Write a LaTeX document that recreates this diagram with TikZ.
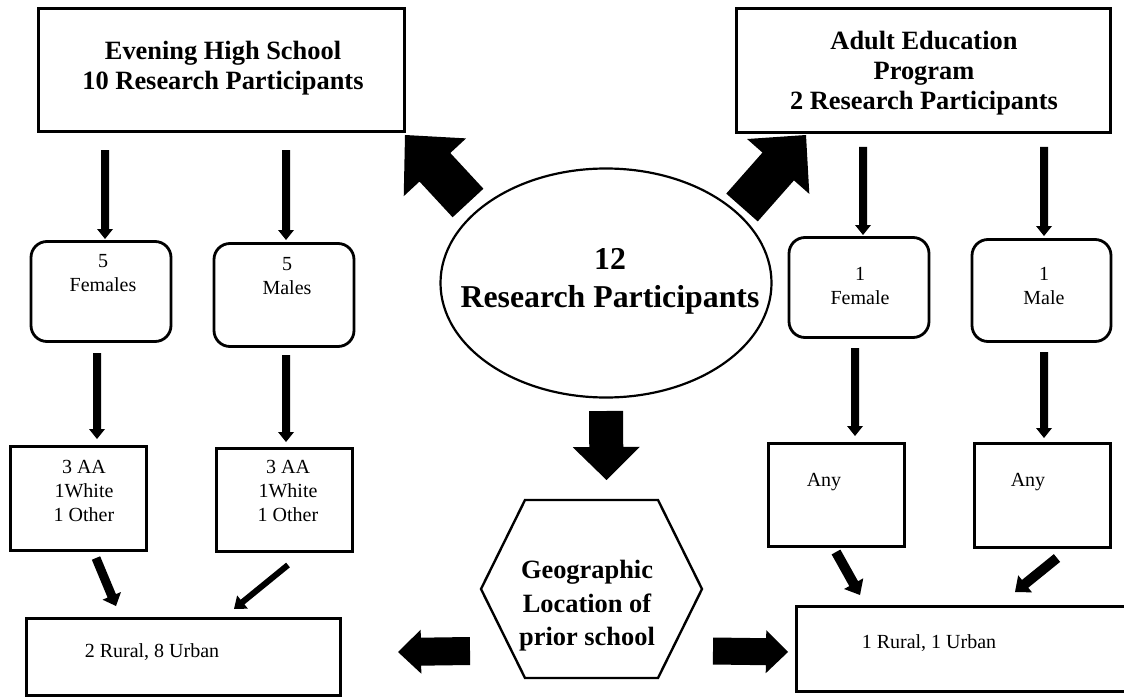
\documentclass[tikz,border=0pt]{standalone}
\usepackage{fontspec}
\setmainfont{Liberation Serif}
\usetikzlibrary{calc,shapes.geometric}
\newcommand{\blkarr}[5]{%
  \path ($(#2)!#5!(#1)$) coordinate (bkC);
  \fill ($(#1)!#3!90:(#2)$) -- ($(bkC)!#3!90:(#2)$) -- ($(bkC)!#4!90:(#2)$) -- (#2)
    -- ($(bkC)!#4!-90:(#2)$) -- ($(bkC)!#3!-90:(#2)$) -- ($(#1)!#3!-90:(#2)$) -- cycle;}
\begin{document}
\begin{tikzpicture}[x=1pt,y=-1pt,
  rbox/.style={draw, line width=2.8pt, rectangle, inner sep=0pt},
  roundbox/.style={draw, line width=2.8pt, rectangle, rounded corners=16pt, inner sep=0pt},
  reg/.style={font=\fontsize{20}{24}\selectfont, align=center, inner sep=0pt},
  bld/.style={font=\fontsize{26.4}{30}\selectfont\bfseries, align=center, inner sep=0pt},
  big/.style={font=\fontsize{31.8}{38}\selectfont\bfseries, align=center, inner sep=0pt},
  hexfont/.style={font=\fontsize{26.4}{33.5}\selectfont\bfseries, align=center, inner sep=0pt}]
\fill[white] (0,0) rectangle (1124,698);
\useasboundingbox (0,0) rectangle (1124,698);

% top boxes
\node[rbox, minimum width=366pt, minimum height=123pt] (ehs) at (221.5,70) {};
\node[bld] (ehsT) at (223,68) {Evening High School\\10 Research Participants};
\node[rbox, minimum width=374pt, minimum height=124pt] (aep) at (923.5,70.5) {};
\node[bld] (aepT) at (924,73) {Adult Education\\Program\\2 Research Participants};

% rounded gender boxes
\node[roundbox, minimum width=140pt, minimum height=100pt] (fem) at (101,291.5) {};
\node[reg] (femT) at (103,273.5) {5\\Females};
\node[roundbox, minimum width=140pt, minimum height=103pt] (mal) at (284,295) {};
\node[reg] (malT) at (287,276.5) {5\\Males};
\node[roundbox, minimum width=140pt, minimum height=100pt] (fem2) at (859,287.5) {};
\node[reg] (fem2T) at (860,285.5) {1\\Female};
\node[roundbox, minimum width=139pt, minimum height=102pt] (mal2) at (1041.5,290.5) {};
\node[reg] (mal2T) at (1044,285.5) {1\\Male};

% race boxes
\node[rbox, minimum width=136pt, minimum height=104pt] (r1) at (78.5,498.5) {};
\node[reg] (r1T) at (84,491) {3 AA\\1White\\1 Other};
\node[rbox, minimum width=136pt, minimum height=103pt] (r2) at (284.5,500) {};
\node[reg] (r2T) at (288,491) {3 AA\\1White\\1 Other};
\node[rbox, minimum width=136pt, minimum height=103pt] (any1) at (836.5,495) {};
\node[reg] (any1T) at (824,482) {Any};
\node[rbox, minimum width=136pt, minimum height=104pt] (any2) at (1042.5,495.5) {};
\node[reg] (any2T) at (1028,482) {Any};

% bottom boxes
\node[rbox, minimum width=314pt, minimum height=77pt] (bl) at (183.5,657) {};
\node[reg] (blT) at (152,652) {2 Rural, 8 Urban};
\node[rbox, minimum width=337pt, minimum height=85pt] (br) at (965,649) {};
\node[reg] (brT) at (929,643) {1 Rural, 1 Urban};

% ellipse
\node[draw, ellipse, line width=2.2pt, minimum width=331pt, minimum height=229pt] (ell) at (606,283) {};
\node[big] (ellT) at (610,281) {12\\Research Participants};

% hexagon
\coordinate (hex) at (591.5,589);
\draw[line width=2.4pt, line join=miter] ($(hex)+(-110.5,0)$) -- ($(hex)+(-66.5,-89)$) -- ($(hex)+(66.5,-89)$)
  -- ($(hex)+(110.5,0)$) -- ($(hex)+(66.5,89)$) -- ($(hex)+(-66.5,89)$) -- cycle;
\node[hexfont] (hexT) at (587,606) {Geographic\\Location of\\prior school};

% big block arrows
\coordinate (nwT) at (468,203); \coordinate (nwH) at (405,135);
\coordinate (neT) at (742,207.5); \coordinate (neH) at (806,135);
\coordinate (dT) at (606,411); \coordinate (dH) at (606.5,480);
\coordinate (lT) at (470,651); \coordinate (lH) at (398,652);
\coordinate (rT) at (713,651); \coordinate (rH) at (788,652);
\blkarr{nwT}{nwH}{21pt}{42.5pt}{44pt}
\blkarr{neT}{neH}{21pt}{41.5pt}{42pt}
\blkarr{dT}{dH}{17pt}{33.5pt}{33pt}
\blkarr{lT}{lH}{14pt}{22pt}{23pt}
\blkarr{rT}{rH}{13.5pt}{21.5pt}{22pt}

% thin vertical arrows
\coordinate (a1s) at (105,150); \coordinate (a1e) at (105,239);
\coordinate (a2s) at (286,150); \coordinate (a2e) at (286,240);
\coordinate (a3s) at (863,147); \coordinate (a3e) at (863,235);
\coordinate (a4s) at (1044,147); \coordinate (a4e) at (1044,236);
\coordinate (b1s) at (97,353); \coordinate (b1e) at (97,439);
\coordinate (b2s) at (286,355); \coordinate (b2e) at (286,442);
\coordinate (b3s) at (855,348); \coordinate (b3e) at (855,436);
\coordinate (b4s) at (1044,352); \coordinate (b4e) at (1044,438);
\foreach \p in {a1,a2,a3,a4,b1,b2,b3,b4}{\blkarr{\p s}{\p e}{4pt}{8pt}{10pt}}

% diagonal arrows
\coordinate (c1s) at (96,558); \coordinate (c1e) at (116,606);
\coordinate (c2s) at (288,565); \coordinate (c2e) at (234,609);
\coordinate (c3s) at (836,552); \coordinate (c3e) at (860,595);
\coordinate (c4s) at (1057,558); \coordinate (c4e) at (1015,592);
\blkarr{c1s}{c1e}{4.5pt}{10pt}{11pt}
\blkarr{c2s}{c2e}{3pt}{8.5pt}{11pt}
\blkarr{c3s}{c3e}{5pt}{11pt}{13pt}
\blkarr{c4s}{c4e}{5pt}{11pt}{13pt}
\end{tikzpicture}
\end{document}
